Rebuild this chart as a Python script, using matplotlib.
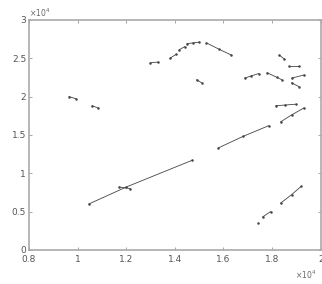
import matplotlib
matplotlib.use('Agg')
from matplotlib import pyplot as plt

# segments (x in 1e4, y in 1e4)
seg_x = [
    [1.047, 1.20, 1.472],
    [1.171, 1.216],
    [1.579, 1.68, 1.786],
    [1.835, 1.88, 1.930],
    [1.815, 1.855, 1.897],
    [1.740],
    [1.761, 1.794],
    [1.835, 1.88, 1.920],
    [0.965, 0.994],
    [1.060, 1.085],
    [1.299, 1.330],
    [1.380, 1.405],
    [1.418, 1.440],
    [1.450, 1.475, 1.500],
    [1.530, 1.58, 1.633],
    [1.490, 1.510],
    [1.687, 1.715, 1.745],
    [1.780, 1.820, 1.840],
    [1.830, 1.850],
    [1.870, 1.910],
    [1.880, 1.930],
    [1.880, 1.910],
]
seg_y = [
    [0.60, 0.82, 1.17],
    [0.82, 0.80],
    [1.33, 1.48, 1.62],
    [1.67, 1.76, 1.85],
    [1.88, 1.89, 1.90],
    [0.35],
    [0.43, 0.50],
    [0.61, 0.72, 0.83],
    [2.00, 1.97],
    [1.88, 1.85],
    [2.44, 2.45],
    [2.50, 2.55],
    [2.61, 2.65],
    [2.69, 2.70, 2.71],
    [2.70, 2.62, 2.54],
    [2.22, 2.18],
    [2.24, 2.27, 2.30],
    [2.31, 2.25, 2.22],
    [2.54, 2.49],
    [2.40, 2.40],
    [2.24, 2.28],
    [2.18, 2.13],
]
xticks = [0.8, 1, 1.2, 1.4, 1.6, 1.8, 2]
yticks = [0, 0.5, 1, 1.5, 2, 2.5, 3]

fig = plt.figure(figsize=(3.22, 2.84), dpi=100)
ax = fig.add_axes([0.090, 0.120, 0.906, 0.810])

for xs, ys in zip(seg_x, seg_y):
    ax.plot(xs, ys, color='#444444', linewidth=0.6, marker='.', markersize=1.6)

ax.set_xlim(0.8, 2)
ax.set_ylim(0, 3)
ax.set_xticks(xticks)
ax.set_yticks(yticks)
ax.set_xticklabels(['0.8', '1', '1.2', '1.4', '1.6', '1.8', '2'])
ax.set_yticklabels(['0', '0.5', '1', '1.5', '2', '2.5', '3'])
ax.tick_params(direction='in', length=2.5, width=0.6, colors='#999999',
               labelcolor='#555555', labelsize=6.5, top=True, right=True, pad=2)
ax.tick_params(axis='x', pad=3.5)
for s in ax.spines.values():
    s.set_color('#aaaaaa')
    s.set_linewidth(1.2)

ax.text(0.0, 1.005, r'$\times10^4$', transform=ax.transAxes, fontsize=5.5,
        color='#666666', ha='left', va='bottom')
ax.text(0.985, -0.08, r'$\times10^4$', transform=ax.transAxes, fontsize=5.5,
        color='#666666', ha='right', va='top')

fig.savefig('out.png', dpi=100)
